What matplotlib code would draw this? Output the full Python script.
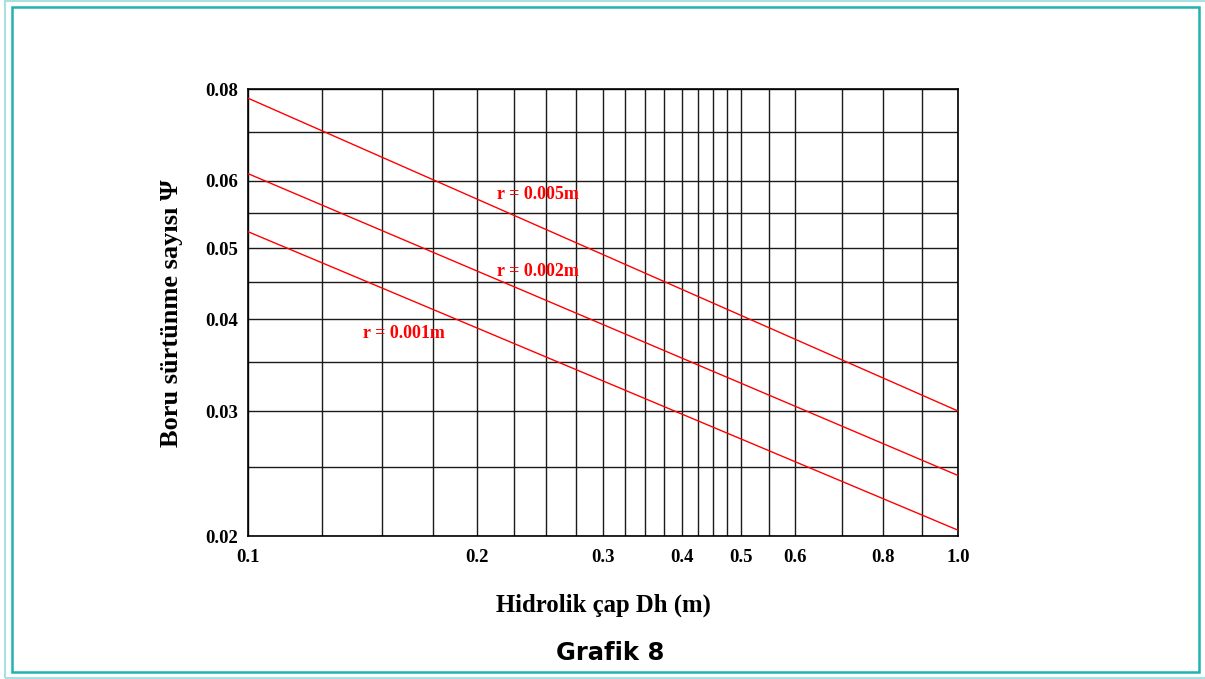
"""Grafik 8 - boru sürtünme sayısı vs hidrolik çap."""

import matplotlib
matplotlib.use("Agg")

import numpy as np
import matplotlib.pyplot as plt
import matplotlib.patches as mpatches
from matplotlib.ticker import FixedLocator, FixedFormatter, NullFormatter

plt.rcParams["font.family"] = ["Liberation Serif", "DejaVu Serif"]
plt.rcParams["font.weight"] = "bold"

# ── Data ──
x_ends = [0.1, 1.0]
psi_r005 = [0.0778, 0.0300]
psi_r002 = [0.0614, 0.02435]
psi_r001 = [0.0523, 0.0204]
series_names = ["r = 0.005m", "r = 0.002m", "r = 0.001m"]
label_x = [0.2134, 0.2134, 0.1415]
label_y = [0.0578, 0.0464, 0.03826]

x_major = [0.1, 0.2, 0.3, 0.4, 0.5, 0.6, 0.8, 1.0]
x_labels = ["0.1", "0.2", "0.3", "0.4", "0.5", "0.6", "0.8", "1.0"]
x_minor = [0.125, 0.15, 0.175, 0.225, 0.25, 0.275, 0.325, 0.35, 0.375,
           0.425, 0.45, 0.475, 0.55, 0.7, 0.9]
y_major = [0.02, 0.03, 0.04, 0.05, 0.06, 0.08]
y_labels = ["0.02", "0.03", "0.04", "0.05", "0.06", "0.08"]
y_minor = [0.025, 0.035, 0.045, 0.055, 0.07]

# The printed grid is only roughly logarithmic: where each major tick sits
# along its axis (fraction of axis length).
x_tick_frac = [0.0, 0.3225, 0.4996, 0.6113, 0.6939, 0.7704, 0.8939, 1.0]
y_tick_frac = [0.0, 0.2803, 0.4861, 0.6443, 0.7949, 1.0]


def _make_scale(knots, fracs):
    lk = np.log10(knots)
    fr = np.asarray(fracs)

    def fwd(v):
        v = np.asarray(v, dtype=float)
        with np.errstate(divide="ignore", invalid="ignore"):
            lv = np.log10(np.where(v > 0, v, knots[0]))
        return np.interp(lv, lk, fr)

    def inv(v):
        v = np.asarray(v, dtype=float)
        return 10 ** np.interp(v, fr, lk)

    return fwd, inv


fx, ix = _make_scale(x_major, x_tick_frac)
fy, iy = _make_scale(y_major, y_tick_frac)

# Colours
C_RED = "#ff0000"
C_GRID = "#1a1a1a"
C_FRAME_OUT = "#a6e2e2"
C_FRAME_IN = "#22b3ae"

W, H = 1205, 679
fig = plt.figure(figsize=(W / 100, H / 100), dpi=100)
fig.patch.set_facecolor("white")

ax = fig.add_axes([248 / W, 1 - 536.3 / H, 710 / W, 447 / H])
ax.set_xscale("function", functions=(fx, ix))
ax.set_yscale("function", functions=(fy, iy))
ax.set_xlim(x_major[0], x_major[-1])
ax.set_ylim(y_major[0], y_major[-1])

ax.xaxis.set_major_locator(FixedLocator(x_major))
ax.xaxis.set_major_formatter(FixedFormatter(x_labels))
ax.xaxis.set_minor_locator(FixedLocator(x_minor))
ax.xaxis.set_minor_formatter(NullFormatter())
ax.yaxis.set_major_locator(FixedLocator(y_major))
ax.yaxis.set_major_formatter(FixedFormatter(y_labels))
ax.yaxis.set_minor_locator(FixedLocator(y_minor))
ax.yaxis.set_minor_formatter(NullFormatter())

ax.grid(which="both", color=C_GRID, linewidth=1.0)
ax.set_axisbelow(True)
ax.tick_params(which="both", length=0)
ax.tick_params(axis="x", labelsize=13.5, pad=9)
ax.tick_params(axis="y", labelsize=13.5, pad=7)
for sp in ax.spines.values():
    sp.set_color("black")
    sp.set_linewidth(1.2)

# ── Lines ──
for psi in (psi_r005, psi_r002, psi_r001):
    ax.plot(x_ends, psi, color=C_RED, linewidth=1.0, zorder=3)

for name, lx, ly in zip(series_names, label_x, label_y):
    ax.text(lx, ly, name, color=C_RED, fontsize=13, fontweight="bold",
            ha="left", va="center", zorder=4)

ax.set_xlabel("Hidrolik çap Dh (m)", fontsize=17.8, fontweight="bold", labelpad=20)
ax.set_ylabel("Boru sürtünme sayısı Ψ", fontsize=19, fontweight="bold", labelpad=16)

# ── Title ──
fig.text(610 / W, 1 - 653 / H, "Grafik 8", family="DejaVu Sans", fontsize=17.5,
         fontweight="bold", ha="center", va="center")

# ── Frame ──
fig.add_artist(mpatches.Rectangle((5 / W, 1 - 678 / H), 1210 / W, 677 / H,
                                  transform=fig.transFigure, fill=False,
                                  edgecolor=C_FRAME_OUT, linewidth=1.5))
fig.add_artist(mpatches.Rectangle((12.3 / W, 1 - 672 / H), 1186.7 / W, 664.7 / H,
                                  transform=fig.transFigure, fill=False,
                                  edgecolor=C_FRAME_IN, linewidth=1.8))

fig.savefig("out.png", dpi=100, facecolor="white")
